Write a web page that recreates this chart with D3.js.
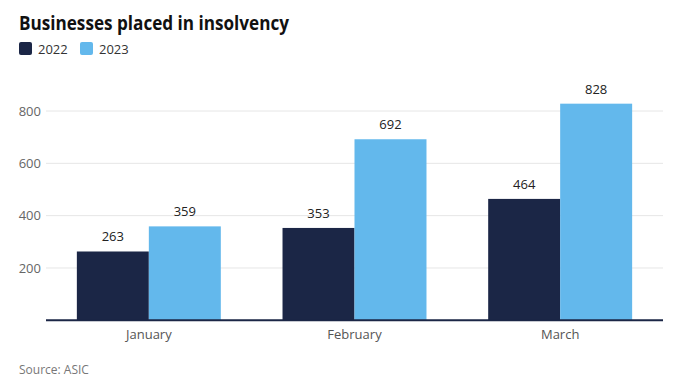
<!DOCTYPE html>
<html><head><meta charset="utf-8">
<script src="https://cdn.jsdelivr.net/npm/d3@7"></script>
<style>body{margin:0;background:#fff;font-family:"Open Sans",sans-serif;}</style>
</head><body><svg id="c" width="684" height="380"></svg>
<script>
const categories = ["January", "February", "March"];
const seriesNames = ["2022", "2023"];
const values2022 = [263, 353, 464];
const values2023 = [359, 692, 828];
const yTicks = [200, 400, 600, 800];
const colors = ["#1b2646", "#63b8ec"];

const svg = d3.select("#c");
const m = {left: 46, right: 21, top: 85, bottom: 60};
const W = 684, H = 380;
const x0 = d3.scaleBand().domain(categories).range([m.left, W - m.right]).paddingInner(0.3).paddingOuter(0.15);
const x1 = d3.scaleBand().domain(seriesNames).range([0, x0.bandwidth()]);
const y = d3.scaleLinear().domain([0, 800]).range([320.3, 111]);

svg.append("text").attr("x", 19).attr("y", 30).text("Businesses placed in insolvency")
  .attr("font-family", "'Open Sans',sans-serif").attr("font-weight", 700).attr("font-size", 20)
  .attr("textLength", 270).attr("lengthAdjust", "spacingAndGlyphs").attr("fill", "#111");

const lg = svg.append("g");
seriesNames.forEach((s, i) => {
  const gx = 19 + i * 61;
  lg.append("rect").attr("x", gx).attr("y", 42).attr("width", 13).attr("height", 13).attr("rx", 2).attr("fill", colors[i]);
  lg.append("text").attr("x", gx + 19).attr("y", 54).text(s).attr("font-size", 13).attr("fill", "#333");
});

const grid = svg.append("g");
grid.selectAll("line").data(yTicks).join("line")
  .attr("x1", m.left).attr("x2", W - m.right).attr("y1", d => y(d)).attr("y2", d => y(d))
  .attr("stroke", "#e6e6e6").attr("stroke-width", 1);
const yAxis = d3.axisLeft(y).tickValues(yTicks).tickSize(0).tickPadding(5);
const ya = svg.append("g").attr("transform", `translate(${m.left},0)`).call(yAxis);
ya.select(".domain").remove();
ya.selectAll("text").attr("font-family", "'Open Sans',sans-serif").attr("font-size", 13).attr("fill", "#666");

const data = categories.map((c, i) => ({c, vals: [values2022[i], values2023[i]]}));
const g = svg.append("g");
data.forEach(d => {
  d.vals.forEach((v, j) => {
    const bx = x0(d.c) + x1(seriesNames[j]);
    g.append("rect").attr("x", bx).attr("y", y(v)).attr("width", x1.bandwidth()).attr("height", y(0) - y(v)).attr("fill", colors[j]);
    g.append("text").attr("x", bx + x1.bandwidth() / 2).attr("y", y(v) - 10).attr("text-anchor", "middle")
      .text(v).attr("font-size", 13).attr("fill", "#222");
  });
});

const xAxis = d3.axisBottom(x0).tickSize(0).tickPadding(9);
const xa = svg.append("g").attr("transform", `translate(0,${y(0)})`).call(xAxis);
xa.select(".domain").attr("stroke", "#1b2646").attr("stroke-width", 2).attr("d", `M${m.left},0H${W - m.right}`);
xa.selectAll("text").attr("font-family", "'Open Sans',sans-serif").attr("font-size", 13).attr("fill", "#555");

svg.append("text").attr("x", 19).attr("y", 374).text("Source: ASIC").attr("font-size", 12).attr("fill", "#777");
</script></body></html>
